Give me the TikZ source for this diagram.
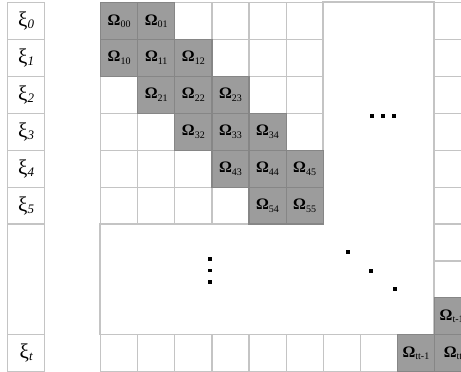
\documentclass[tikz,border=0pt]{standalone}
\usepackage{fontspec}
\setmainfont{Liberation Serif}
\usetikzlibrary{positioning}
\definecolor{gridgray}{HTML}{C4C4C4}
\definecolor{cellgray}{HTML}{9C9C9C}
\definecolor{edgegray}{HTML}{868686}
\tikzset{
  cell/.style={draw=gridgray, line width=1.2pt, minimum width=37.1pt, minimum height=36.9pt,
               inner sep=0pt, anchor=north west},
  blockcell/.style={cell, draw=edgegray, fill=cellgray, font=\fontsize{16}{16}\selectfont},
  varcell/.style={cell, font=\fontsize{21}{21}\selectfont},
  gapdot/.style={rectangle, fill=black, inner sep=0pt, minimum size=3.6pt}
}
\newcommand{\omlab}[1]{\textbf{Ω}{\fontsize{10}{10}\selectfont\raisebox{-2.5pt}{#1}}}
\newcommand{\xilab}[1]{ξ{\itshape\fontsize{13}{13}\selectfont\raisebox{-2pt}{#1}}}

\begin{document}
\begin{tikzpicture}[x=1pt, y=-1pt]
  \useasboundingbox (0,0) rectangle (461,372);
  \clip (0,0) rectangle (461,372);

  % variable column
  \foreach \i in {0,...,5}
    \node[varcell] (xi\i) at (7, 2+36.9*\i) {\xilab{\i}};
  \node[cell, minimum height=110.7pt] (xigap) at (7, 223.4) {};
  \node[varcell] (xit) at (7, 334.1) {\xilab{t}};

  % block matrix, upper left part
  \foreach \r in {0,...,5}
    \foreach \c in {0,...,5}
      \node[cell] (c\r\c) at (100+37.1*\c, 2+36.9*\r) {};

  % last column and last row
  \foreach \r in {0,...,7}
    \node[cell] (ct\r) at (433.9, 2+36.9*\r) {};
  \foreach \c in {0,...,7}
    \node[cell] (tc\c) at (100+37.1*\c, 334.1) {};

  % merged empty region
  \draw[gridgray, line width=1.2pt] (322.6,2) -- (433.9,2) -- (433.9,334.1) -- (100,334.1)
    -- (100,223.4) -- (322.6,223.4) -- cycle;

  % non-zero blocks
  \foreach \r/\c in {0/0,0/1,1/0,1/1,1/2,2/1,2/2,2/3,3/2,3/3,3/4,4/3,4/4,4/5,5/4,5/5}
    \node[blockcell] (om\r\c) at (100+37.1*\c, 2+36.9*\r) {\omlab{\r\c}};
  \node[blockcell] (omlt) at (433.9, 297.2) {\omlab{t-1t}};
  \node[blockcell] (omtl) at (396.8, 334.1) {\omlab{tt-1}};
  \node[blockcell] (omtt) at (433.9, 334.1) {\omlab{tt}};

  % dots
  \foreach \x in {372,383,394}
    \node[gapdot] at (\x, 116) {};
  \foreach \y in {259,270.5,282}
    \node[gapdot] at (210, \y) {};
  \node[gapdot] (dd1) at (348, 252) {};
  \node[gapdot] (dd2) at (371, 271) {};
  \node[gapdot] (dd3) at (395, 289) {};

\end{tikzpicture}
\end{document}
